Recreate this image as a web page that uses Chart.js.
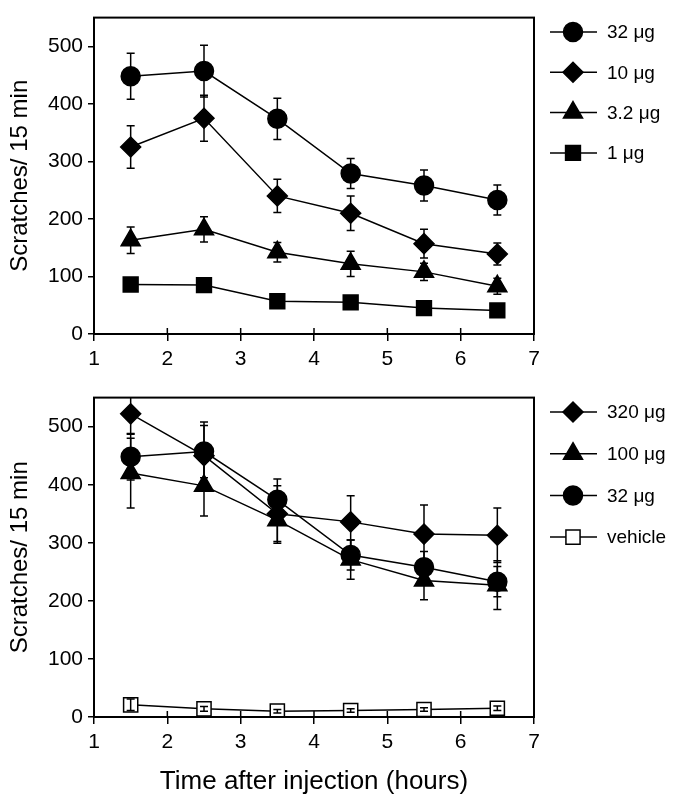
<!DOCTYPE html>
<html>
<head>
<meta charset="utf-8">
<script src="https://cdn.jsdelivr.net/npm/chart.js@4.4.0/dist/chart.umd.min.js"></script>
<style>
  body { margin: 0; background: #fff; }
  #wrap { position: relative; width: 676px; height: 806px; }
  canvas { position: absolute; left: 0; }
</style>
</head>
<body>
<div id="wrap">
  <canvas id="topChart" width="676" height="380" style="top:0;width:676px;height:380px"></canvas>
  <canvas id="bottomChart" width="676" height="426" style="top:380px;width:676px;height:426px"></canvas>
</div>
<script>
// time points (hours after injection) and axis ticks
var hours = [1.5, 2.5, 3.5, 4.5, 5.5, 6.5];
var xTicks = [1, 2, 3, 4, 5, 6, 7];
var yTicks = [0, 100, 200, 300, 400, 500];

// upper panel: low doses (mean and error)
var dose32 = [448, 457, 374, 279, 258, 233];
var dose32Err = [40, 45, 36, 26, 27, 26];
var dose10 = [325, 375, 240, 210, 157, 139];
var dose10Err = [37, 40, 29, 30, 25, 19];
var dose3 = [163, 182, 142, 122, 108, 83];
var dose3Err = [23, 22, 17, 22, 15, 14];
var dose1 = [86, 85, 57, 55, 45, 41];
var dose1Err = [6, 6, 5, 5, 4, 4];

// lower panel: high doses and vehicle
var dose320 = [522, 450, 350, 336, 315, 313];
var dose320Err = [35, 58, 48, 45, 50, 47];
var dose100 = [420, 398, 339, 271, 235, 227];
var dose100Err = [60, 52, 40, 34, 33, 42];
var vehicle = [21, 14, 10, 11, 13, 15];
var vehicleErr = [10, 4, 3, 3, 3, 4];

Chart.defaults.font.family = "'Liberation Sans', Arial, sans-serif";
Chart.defaults.color = '#000';

function series(label, values, errors, style, radius, fill, order) {
  return {
    label: label,
    data: hours.map(function (h, i) { return { x: h, y: values[i] }; }),
    errors: errors,
    // open markers get their bars drawn over them, like the original
    barsOnTop: fill !== '#000',
    order: order,
    borderColor: '#000',
    borderWidth: 1.5,
    pointStyle: style,
    pointRadius: radius,
    pointHoverRadius: radius,
    pointBackgroundColor: fill,
    pointBorderColor: '#000',
    pointBorderWidth: 1.5,
    fill: false,
    tension: 0
  };
}

function drawBars(chart, onTop) {
  var ctx = chart.ctx, area = chart.chartArea, y = chart.scales.y;
  ctx.save();
  ctx.beginPath();
  ctx.rect(area.left, area.top, area.right - area.left, area.bottom - area.top);
  ctx.clip();
  ctx.strokeStyle = '#000';
  ctx.lineWidth = 1.5;
  chart.data.datasets.forEach(function (ds, i) {
    if (ds.barsOnTop !== onTop) return;
    chart.getDatasetMeta(i).data.forEach(function (pt, j) {
      var v = ds.data[j].y, e = ds.errors[j];
      var hi = y.getPixelForValue(v + e), lo = y.getPixelForValue(v - e);
      ctx.beginPath();
      ctx.moveTo(pt.x, hi); ctx.lineTo(pt.x, lo);
      ctx.moveTo(pt.x - 4, hi); ctx.lineTo(pt.x + 4, hi);
      ctx.moveTo(pt.x - 4, lo); ctx.lineTo(pt.x + 4, lo);
      ctx.stroke();
    });
  });
  ctx.restore();
}

// vertical error bars with caps
var errorBars = {
  id: 'errorBars',
  beforeDatasetsDraw: function (chart) { drawBars(chart, false); },
  afterDatasetsDraw: function (chart) { drawBars(chart, true); }
};

// closed box round the plot and the inner half of the x ticks
var frame = {
  id: 'frame',
  afterDraw: function (chart) {
    var ctx = chart.ctx, a = chart.chartArea, x = chart.scales.x;
    ctx.save();
    ctx.strokeStyle = '#000';
    ctx.lineWidth = 2;
    ctx.strokeRect(a.left, a.top, a.right - a.left, a.bottom - a.top);
    ctx.lineWidth = 1.5;
    ctx.beginPath();
    xTicks.forEach(function (t) {
      var px = x.getPixelForValue(t);
      ctx.moveTo(px, a.bottom);
      ctx.lineTo(px, a.bottom - 6);
    });
    ctx.stroke();
    ctx.restore();
  }
};

// legend to the right: short line with the marker on it, then the label
var sideLegend = {
  id: 'sideLegend',
  afterDraw: function (chart, args, opts) {
    var ctx = chart.ctx;
    ctx.save();
    chart.data.datasets.forEach(function (ds, i) {
      var cy = opts.top + i * opts.gap;
      ctx.strokeStyle = '#000';
      ctx.lineWidth = 1.5;
      ctx.beginPath();
      ctx.moveTo(550, cy);
      ctx.lineTo(597, cy);
      ctx.stroke();
      ctx.fillStyle = ds.pointBackgroundColor;
      Chart.helpers.drawPoint(ctx, {
        pointStyle: ds.pointStyle, radius: ds.pointRadius, rotation: 0, borderWidth: 1.5
      }, 573, cy);
      ctx.fillStyle = '#000';
      ctx.font = "19px 'Liberation Sans', Arial, sans-serif";
      ctx.textAlign = 'left';
      ctx.textBaseline = 'middle';
      ctx.fillText(ds.label, 607, cy + 1);
    });
    ctx.restore();
  }
};

function drawPanel(id, datasets, padTop, xHeight, showTitle, legendGap) {
  var ctx = document.getElementById(id).getContext('2d');
  return new Chart(ctx, {
    type: 'line',
    data: { datasets: datasets },
    plugins: [errorBars, frame, sideLegend],
    options: {
      responsive: false,
      animation: false,
      layout: { padding: { top: padTop, right: 142, left: 0, bottom: 0 } },
      plugins: {
        legend: { display: false },
        tooltip: { enabled: false },
        sideLegend: { top: 32, gap: legendGap }
      },
      scales: {
        x: {
          type: 'linear',
          min: 1, max: 7,
          afterBuildTicks: function (s) { s.ticks = xTicks.map(function (v) { return { value: v }; }); },
          afterFit: function (s) { s.height = xHeight; },
          grid: { drawOnChartArea: false, drawTicks: true, tickLength: 7, color: '#000', lineWidth: 1.5 },
          border: { display: false },
          ticks: { font: { size: 21 }, padding: 6, maxRotation: 0, autoSkip: false },
          title: {
            display: showTitle,
            text: 'Time after injection (hours)',
            font: { size: 26 },
            padding: { top: 0, bottom: 9 }
          }
        },
        y: {
          type: 'linear',
          min: 0, max: 550,
          afterBuildTicks: function (s) { s.ticks = yTicks.map(function (v) { return { value: v }; }); },
          afterFit: function (s) { s.width = 94; },
          grid: { drawOnChartArea: false, drawTicks: true, tickLength: 6, color: '#000', lineWidth: 1.5 },
          border: { display: false },
          ticks: { font: { size: 21 }, padding: 5 },
          title: {
            display: true,
            text: 'Scratches/ 15 min',
            font: { size: 24 },
            padding: { top: 6, bottom: 0 }
          }
        }
      }
    }
  });
}

drawPanel('topChart', [
  series('32 μg', dose32, dose32Err, 'circle', 9.5, '#000', 0),
  series('10 μg', dose10, dose10Err, 'rectRot', 10, '#000', 1),
  series('3.2 μg', dose3, dose3Err, 'triangle', 11, '#000', 2),
  series('1 μg', dose1, dose1Err, 'rect', 10.5, '#000', 3)
], 8, 46, false, 40.3);

drawPanel('bottomChart', [
  series('320 μg', dose320, dose320Err, 'rectRot', 10, '#000', 1),
  series('100 μg', dose100, dose100Err, 'triangle', 11, '#000', 2),
  series('32 μg', dose32, dose32Err, 'circle', 9.5, '#000', 0),
  series('vehicle', vehicle, vehicleErr, 'rect', 10, '#fff', 3)
], 9, 89, true, 41.7);
</script>
</body>
</html>
